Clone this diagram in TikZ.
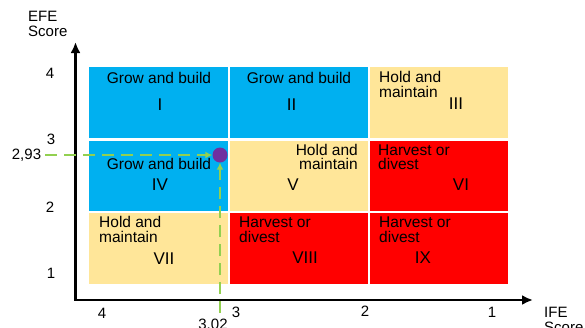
\documentclass[tikz,border=0pt]{standalone}
\usepackage{fontspec}
\setmainfont{Liberation Sans}
\usetikzlibrary{arrows.meta}

\begin{document}
\begin{tikzpicture}[>={Latex[length=11pt,width=10pt]}, x=1pt, y=-1pt,
  celltext/.style={font=\fontsize{15.5}{14.5}\selectfont, inner sep=0pt, align=left},
  roman/.style={font=\fontsize{17}{17}\selectfont, inner sep=0pt},
  ticklab/.style={font=\fontsize{15}{15}\selectfont, inner sep=0pt},
  guide/.style={color=matgreen, line width=2pt, dash pattern=on 12pt off 7pt, -{Latex[length=7pt,width=7pt]}}]

\definecolor{matblue}{RGB}{0,176,240}
\definecolor{matsand}{RGB}{255,230,153}
\definecolor{matred}{RGB}{255,0,0}
\definecolor{matgreen}{RGB}{146,208,80}
\definecolor{matpurple}{RGB}{112,48,160}

\useasboundingbox (0,0) rectangle (585,327);

\fill[matblue](89,67) rectangle (228,138);
\fill[matblue](230,67) rectangle (368,138);
\fill[matsand](370,67) rectangle (508,138);
\fill[matblue](89,140.5) rectangle (228,210.5);
\fill[matsand](230,140.5) rectangle (368,210.5);
\fill[matred](370,140.5) rectangle (508,210.5);
\fill[matsand](89,212.5) rectangle (228,284);
\fill[matred](230,212.5) rectangle (368,284);
\fill[matred](370,212.5) rectangle (508,284);

\node[celltext, anchor=base] (txtI) at (159,83) {Grow and build};
\node[roman] (numI) at (160,105) {I};
\node[celltext, anchor=base] (txtII) at (299,83) {Grow and build};
\node[roman] (numII) at (291.5,105) {II};
\node[celltext, anchor=base west] (txtIII) at (379,97) {Hold and\\maintain};
\node[roman] (numIII) at (456,104) {III};

\node[celltext, anchor=base] (txtIV) at (159,169) {Grow and build};
\node[roman] (numIV) at (160,184.5) {IV};
\node[celltext, anchor=base east, align=right] (txtV) at (358,169.5) {Hold and\\maintain};
\node[roman] (numV) at (293,185) {V};
\node[celltext, anchor=base west] (txtVI) at (378,169.5) {Harvest or\\divest};
\node[roman] (numVI) at (461,185) {VI};

\node[celltext, anchor=base west] (txtVII) at (99,242) {Hold and\\maintain};
\node[roman] (numVII) at (164,258.5) {VII};
\node[celltext, anchor=base west] (txtVIII) at (239,242) {Harvest or\\divest};
\node[roman] (numVIII) at (305,258) {VIII};
\node[celltext, anchor=base west] (txtIX) at (379,242) {Harvest or\\divest};
\node[roman] (numIX) at (423,258) {IX};

\coordinate (orig) at (75.5,300);
\coordinate (ytop) at (75.5,42);
\coordinate (xend) at (533,300);
\draw[line width=2.5pt, <->] (ytop) -- (orig) -- (xend);

\node[ticklab] (y4) at (50,73.5) {4};
\node[ticklab] (y3) at (51,139) {3};
\node[ticklab] (y293) at (26.5,155) {2,93};
\node[ticklab] (y2) at (50,207) {2};
\node[ticklab] (y1) at (51,273) {1};
\node[ticklab] (x4) at (102,313) {4};
\node[ticklab] (x3) at (236,312.5) {3};
\node[ticklab] (x302) at (213,325) {3,02};
\node[ticklab] (x2) at (365,311.5) {2};
\node[ticklab] (x1) at (492,312.5) {1};
\node[ticklab, align=left, anchor=north west] (ylab) at (28,11) {EFE\\Score};
\node[ticklab, align=left, anchor=north west] (xlab) at (544,306.5) {IFE\\Score};

\node[circle, fill=matpurple, minimum size=15pt, inner sep=0pt] (pt) at (220,155) {};
\coordinate (hstart) at (45,155);
\coordinate (vstart) at (220,313);
\draw[guide] (hstart) -- (pt);
\draw[guide] (vstart) -- (pt);

\end{tikzpicture}
\end{document}
